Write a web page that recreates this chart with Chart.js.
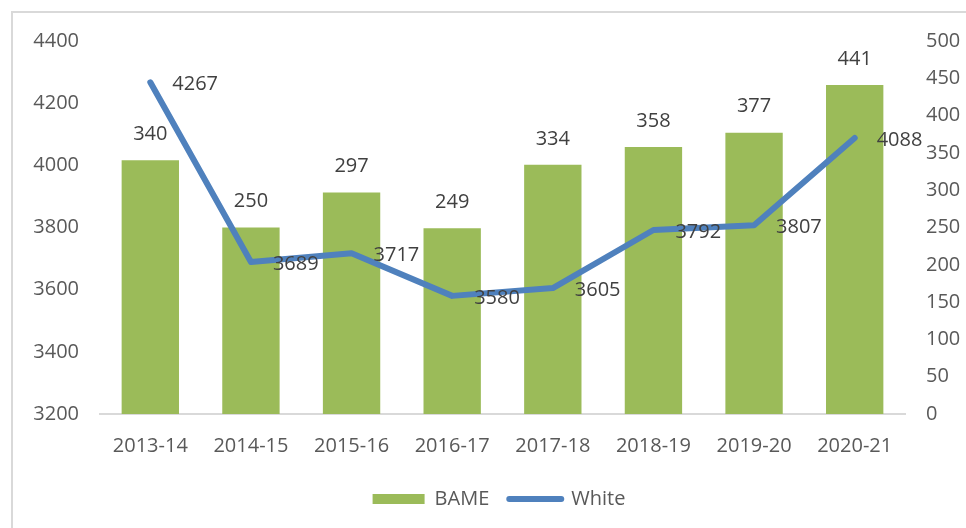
<!DOCTYPE html>
<html>
<head>
<meta charset="utf-8">
<script src="https://cdn.jsdelivr.net/npm/chart.js@4"></script>
<style>
    html, body { margin: 0; padding: 0; background: #fff; }
    #wrap { position: relative; width: 966px; height: 528px; overflow: hidden; }
    #frame {
        position: absolute; left: 11px; top: 11px; width: 980px; height: 540px;
        border-left: 2px solid #d9d9d9; border-top: 2px solid #d9d9d9;
    }
    #staff { position: absolute; left: 0; top: 0; }
</style>
</head>
<body>
<div id="wrap">
    <div id="frame"></div>
    <canvas id="staff" width="966" height="528"></canvas>
</div>
<script>
const years = ['2013-14', '2014-15', '2015-16', '2016-17', '2017-18', '2018-19', '2019-20', '2020-21'];
const bameValues = [340, 250, 297, 249, 334, 358, 377, 441];
const whiteValues = [4267, 3689, 3717, 3580, 3605, 3792, 3807, 4088];
const leftTicks = [3200, 4400, 200];   // min, max, step
const rightTicks = [0, 500, 50];

const green = '#9BBB59';
const blue = '#4F81BD';
const fontFam = '"Open Sans", "Liberation Sans", sans-serif';

// draws the numbers above bars and to the right of line points
const valueLabels = {
    id: 'valueLabels',
    afterDatasetsDraw(chart) {
        const ctx = chart.ctx;
        ctx.save();
        ctx.font = '20px ' + fontFam;
        ctx.fillStyle = '#404040';
        ctx.textBaseline = 'middle';
        ctx.textAlign = 'center';
        chart.getDatasetMeta(0).data.forEach(function(bar, i) {
            ctx.fillText(bameValues[i], bar.x, bar.y - 26);
        });
        ctx.textAlign = 'left';
        chart.getDatasetMeta(1).data.forEach(function(pt, i) {
            ctx.fillText(whiteValues[i], pt.x + 22, pt.y + 2);
        });
        ctx.restore();
    }
};

window.onload = function() {
    const ctx = document.getElementById('staff').getContext('2d');
    const tickFont = { family: fontFam, size: 20 };
    const plain = function(value) { return String(value); };

    new Chart(ctx, {
        type: 'bar',
        data: {
            labels: years,
            datasets: [
                {
                    type: 'bar',
                    label: 'BAME',
                    data: bameValues,
                    backgroundColor: green,
                    borderWidth: 0,
                    yAxisID: 'y1',
                    barPercentage: 0.57,
                    categoryPercentage: 1.0,
                    order: 1
                },
                {
                    type: 'line',
                    label: 'White',
                    data: whiteValues,
                    borderColor: blue,
                    backgroundColor: blue,
                    borderWidth: 6,
                    borderCapStyle: 'round',
                    borderJoinStyle: 'round',
                    pointRadius: 0,
                    tension: 0,
                    fill: false,
                    yAxisID: 'y',
                    order: 0
                }
            ]
        },
        options: {
            responsive: false,
            animation: false,
            layout: {
                padding: { top: 41, bottom: 9, left: 32, right: 0 }
            },
            plugins: {
                tooltip: { enabled: false },
                legend: {
                    position: 'bottom',
                    labels: {
                        usePointStyle: true,
                        pointStyleWidth: 52,
                        boxHeight: 10,
                        padding: 20,
                        color: '#595959',
                        font: tickFont,
                        sort: function(a, b) { return a.datasetIndex - b.datasetIndex; },
                        generateLabels: function(chart) {
                            const items = Chart.defaults.plugins.legend.labels.generateLabels(chart);
                            items.forEach(function(item) {
                                if (item.datasetIndex === 0) {
                                    item.pointStyle = 'rect';
                                    item.fillStyle = green;
                                    item.strokeStyle = green;
                                    item.lineWidth = 0;
                                } else {
                                    item.pointStyle = 'line';
                                    item.strokeStyle = blue;
                                    item.lineWidth = 6;
                                    item.lineCap = 'round';
                                }
                            });
                            return items;
                        }
                    }
                }
            },
            scales: {
                x: {
                    grid: { display: false, drawTicks: false },
                    border: { color: '#d9d9d9', width: 2 },
                    ticks: { color: '#595959', font: tickFont, padding: 20 },
                    afterFit: function(scale) { scale.height = 55; }
                },
                y: {
                    position: 'left',
                    min: leftTicks[0],
                    max: leftTicks[1],
                    grid: { display: false, drawTicks: false },
                    border: { display: false },
                    ticks: { stepSize: leftTicks[2], color: '#595959', font: tickFont, padding: 21, callback: plain },
                    afterFit: function(scale) { scale.width = 68; }
                },
                y1: {
                    position: 'right',
                    min: rightTicks[0],
                    max: rightTicks[1],
                    grid: { display: false, drawTicks: false },
                    border: { display: false },
                    ticks: { stepSize: rightTicks[2], color: '#595959', font: tickFont, padding: 21, callback: plain },
                    afterFit: function(scale) { scale.width = 61; }
                }
            }
        },
        plugins: [valueLabels]
    });
};
</script>
</body>
</html>
